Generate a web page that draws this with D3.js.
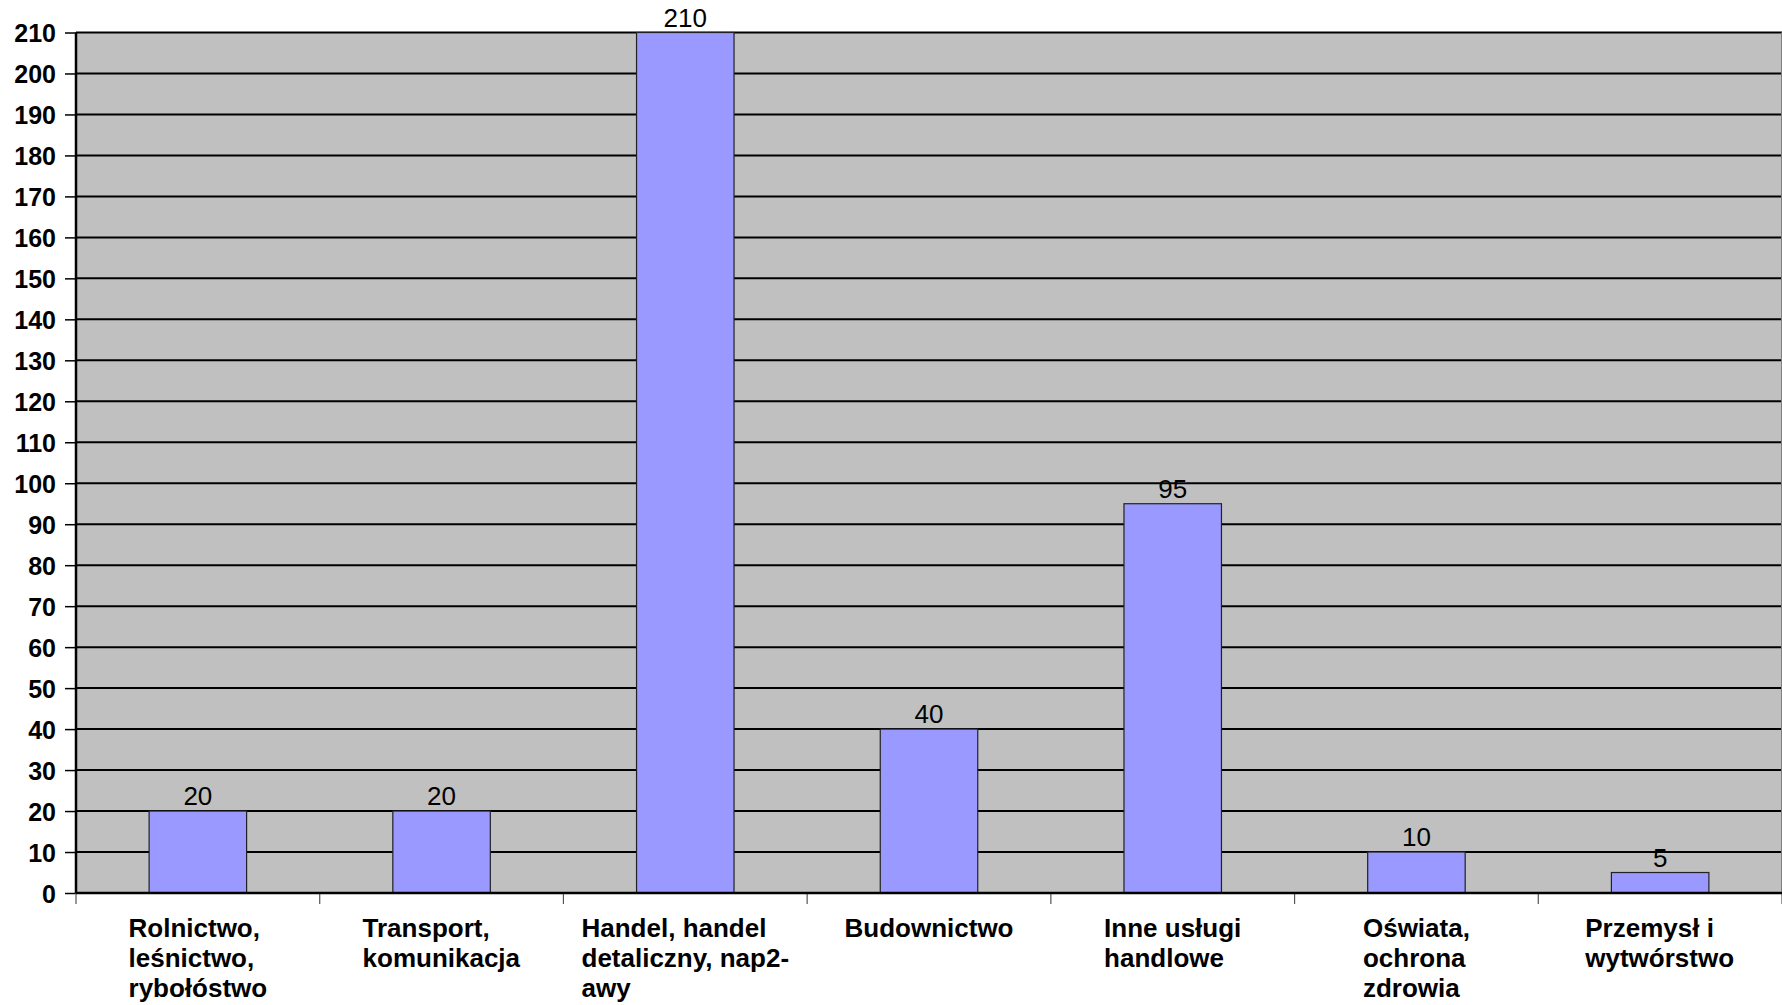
<!DOCTYPE html>
<html><head><meta charset="utf-8">
<script src="https://cdn.jsdelivr.net/npm/d3@7"></script>
<style>body{margin:0;background:#fff}svg{display:block}text{font-family:"Liberation Sans",Arial,sans-serif}</style>
</head><body><svg id="c" width="1782" height="1005"></svg>
<script>
const categories = [
  ["Rolnictwo,","leśnictwo,","rybołóstwo"],
  ["Transport,","komunikacja"],
  ["Handel, handel","detaliczny, nap2-","awy"],
  ["Budownictwo"],
  ["Inne usługi","handlowe"],
  ["Oświata,","ochrona","zdrowia"],
  ["Przemysł i","wytwórstwo"]
];
const values = [20, 20, 210, 40, 95, 10, 5];
const yTicks = d3.range(0, 211, 10);

const svg = d3.select("#c");
const L = 76, R = 1782, T = 32.5, B = 893;
const x = d3.scaleBand().domain(d3.range(categories.length)).range([L, R]).paddingInner(0).paddingOuter(0);
const y = d3.scaleLinear().domain([0, 210]).range([B, T]);

// plot background
svg.append("rect").attr("x", L).attr("y", T).attr("width", R - L).attr("height", B - T).attr("fill", "#C0C0C0");

// gridlines
svg.append("g").selectAll("line").data(yTicks.filter(d => d > 0)).join("line")
  .attr("x1", L).attr("x2", R).attr("y1", d => y(d)).attr("y2", d => y(d))
  .attr("stroke", "#000").attr("stroke-width", 2);

// right border
svg.append("line").attr("x1", R - 0.5).attr("x2", R - 0.5).attr("y1", T).attr("y2", B).attr("stroke", "#808080").attr("stroke-width", 1);

// bars
const bw = x.bandwidth() * 0.4;
svg.append("g").selectAll("rect").data(values).join("rect")
  .attr("x", (d, i) => x(i) + x.bandwidth() / 2 - bw / 2)
  .attr("y", d => y(d))
  .attr("width", bw)
  .attr("height", d => B - y(d))
  .attr("fill", "#9999FF").attr("stroke", "#222").attr("stroke-width", 1.2);

// value labels
svg.append("g").selectAll("text").data(values).join("text")
  .attr("x", (d, i) => x(i) + x.bandwidth() / 2)
  .attr("y", d => y(d) - 6)
  .attr("text-anchor", "middle").attr("font-size", 26).attr("fill", "#000")
  .text(d => d);

// y axis
const ya = svg.append("g").attr("transform", `translate(${L},0)`)
  .call(d3.axisLeft(y).tickValues(yTicks).tickSize(11).tickPadding(9).tickFormat(d3.format("d")));
ya.select(".domain").attr("stroke", "#000").attr("stroke-width", 2.5).attr("d", `M0,${T}V${B}`);
ya.selectAll(".tick line").attr("stroke", "#000").attr("stroke-width", 1.5);
ya.selectAll(".tick text").attr("font-size", 25).attr("font-weight", "bold").attr("fill", "#000")
  .attr("font-family", '"Liberation Sans",Arial,sans-serif').attr("dy", "0.36em");

// x axis
const xTickPos = d3.range(categories.length + 1).map(i => L + i * x.bandwidth());
svg.append("g").selectAll("line").data(xTickPos).join("line")
  .attr("x1", d => d).attr("x2", d => d).attr("y1", B).attr("y2", B + 11)
  .attr("stroke", "#555").attr("stroke-width", 1.2);
svg.append("line").attr("x1", L).attr("x2", R).attr("y1", B).attr("y2", B).attr("stroke", "#000").attr("stroke-width", 2.5);

// category labels
const cl = svg.append("g").selectAll("text").data(categories).join("text")
  .attr("font-size", 26).attr("font-weight", "bold").attr("fill", "#000");
cl.each(function(lines, i) {
  const t = d3.select(this);
  lines.forEach((s, j) => t.append("tspan").attr("x", 0).attr("y", B + 44 + j * 30).text(s));
  const w = this.getBBox().width;
  t.attr("transform", `translate(${x(i) + x.bandwidth() / 2 - w / 2},0)`);
});
</script></body></html>
